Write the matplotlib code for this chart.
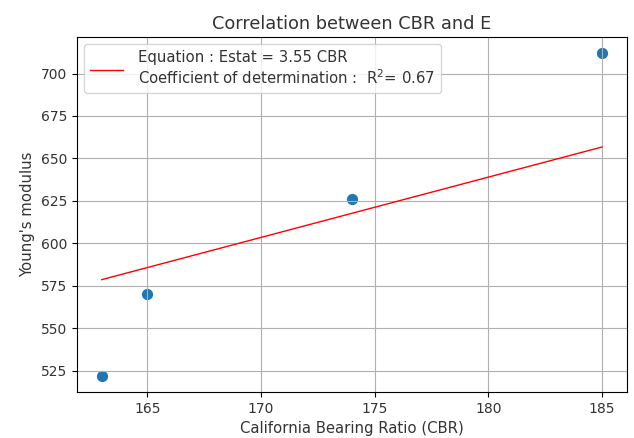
import numpy as np
import matplotlib
matplotlib.use("Agg")
import matplotlib.pyplot as plt

cbr = [163, 165, 174, 185]
young = [522, 570, 626, 712]
slope = 3.55
r2 = 0.67

plt.rcParams['text.color'] = '#333333'
plt.rcParams['axes.labelcolor'] = '#333333'
plt.rcParams['xtick.labelcolor'] = '#333333'
plt.rcParams['ytick.labelcolor'] = '#333333'

fig, ax = plt.subplots(figsize=(6.34, 4.38), dpi=100)
fig.subplots_adjust(left=0.121, right=0.989, top=0.9155, bottom=0.105)

ax.scatter(cbr, young, s=50)

# regression line through the origin
xs = np.array([min(cbr), max(cbr)])
ax.plot(xs, slope * xs, color="red", linewidth=1,
        label="Equation : Estat = {} CBR\nCoefficient of determination :  $\\mathrm{{R}}^2$= {}".format(slope, r2))

ax.set_title("Correlation between CBR and E", fontsize=12.8)
ax.set_xlabel("California Bearing Ratio (CBR)", fontsize=10.7)
ax.set_ylabel("Young's modulus", fontsize=10.7)
ax.set_xticks([165, 170, 175, 180, 185])
ax.set_yticks([525, 550, 575, 600, 625, 650, 675, 700])
ax.grid(True)
ax.legend(loc="upper left", fontsize=10.7, handlelength=2.2, handletextpad=1.0)

plt.savefig("out.png", dpi=100)
